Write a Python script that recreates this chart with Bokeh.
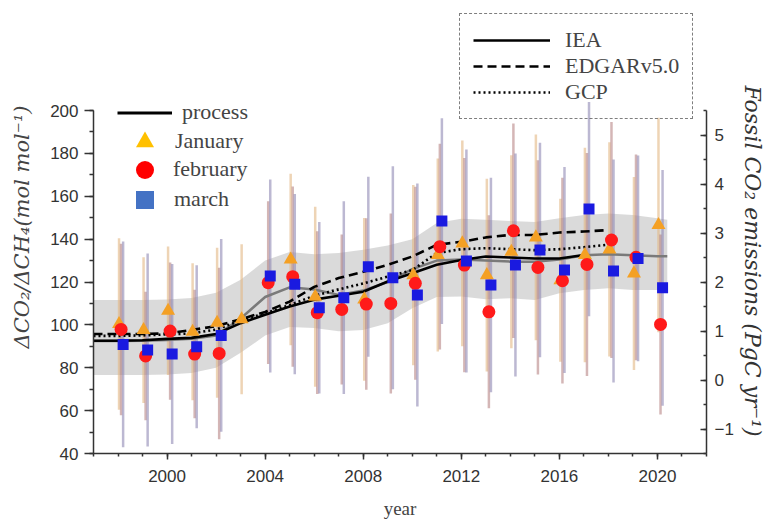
import numpy as np
from bokeh.plotting import figure
from bokeh.models import (Range1d, LinearAxis, Legend, LegendItem, Title,
                          SingleIntervalTicker, ColumnDataSource)
from bokeh.embed import file_html
from bokeh.resources import INLINE

nan = float("nan")

# ---- monthly ratio observations (left axis) ----
years = list(range(1998, 2021))
jan = [100.4, 97.6, 106.6, 96.8, 101.0, 102.6, nan, 130.5, 113.1, nan, 111.9, nan,
       123.2, 132.6, 138.0, 123.2, 134.1, 140.8, 120.8, 132.6, 135.2, 124.0, 146.6]
feb = [97.9, 85.5, 97.1, 86.4, 86.7, nan, 119.7, 122.5, 105.7, 107.2, 109.7, 110.0,
       119.4, 136.5, 127.9, 106.1, 143.9, 126.8, 120.6, 128.2, 139.6, 131.5, 100.2]
mar = [90.9, 88.3, 86.4, 89.8, 95.1, nan, 122.8, 119.0, 108.0, 112.7, 127.1, 122.0,
       113.9, 148.4, 129.8, 118.6, 127.9, 134.9, 125.6, 154.0, 125.1, 131.0, 117.3]
jan_err = [40, 34, 30, 32, 35, 35, nan, 40, 42, nan, 38, nan,
           42, 45, 48, 45, 45, 48, 38, 50, 50, 45, 50]
feb_err = [40, 30, 32, 30, 40, nan, 38, 42, 38, 35, 40, 42,
           45, 48, 50, 45, 50, 50, 48, 52, 55, 48, 42]
mar_err = [48, 45, 42, 38, 45, nan, 45, 42, 40, 45, 42, 52,
           52, 48, 52, 50, 52, 50, 48, 50, 52, 48, 55]

# ---- Gaussian-process fit and its band (left axis) ----
proc_years = [1997, 1998, 1999, 2000, 2001, 2002, 2003, 2004, 2005, 2006, 2007, 2008,
              2009, 2010, 2011, 2012, 2013, 2014, 2015, 2016, 2017, 2018, 2019, 2020, 2020.4]
proc = [92.5, 92.5, 92.6, 93.0, 93.5, 95.0, 103.0, 113.0, 117.5, 116.5, 114.0, 116.0,
        120.0, 126.0, 130.0, 130.5, 130.0, 129.5, 129.5, 130.5, 132.5, 133.0, 132.5, 132.0, 132.0]
band_lo = [76.6, 76.6, 76.6, 76.8, 77.5, 80.0, 87.0, 95.0, 99.0, 98.5, 97.0, 97.6,
           100.7, 107.7, 113.0, 113.2, 112.0, 112.4, 111.6, 114.7, 116.3, 117.1, 116.3, 116.3, 116.3]
band_hi = [111.6, 111.6, 111.6, 111.8, 112.5, 115.0, 121.0, 130.0, 134.0, 133.0, 133.5, 135.0,
           137.0, 140.0, 147.5, 149.5, 149.0, 148.5, 148.0, 149.7, 151.3, 152.0, 151.3, 149.7, 149.0]

# ---- fossil CO2 emissions (right axis, PgC/yr) ----
iea_years = list(range(1997, 2018))
iea = [0.80, 0.80, 0.81, 0.84, 0.86, 0.94, 1.16, 1.33, 1.50, 1.64, 1.72, 1.80,
       2.01, 2.18, 2.35, 2.45, 2.52, 2.50, 2.48, 2.48, 2.55]
edgar_years = list(range(1997, 2019))
edgar = [0.94, 0.94, 0.94, 0.95, 1.02, 1.10, 1.24, 1.39, 1.60, 1.90, 2.08, 2.21,
         2.35, 2.52, 2.76, 2.82, 2.91, 2.96, 2.96, 3.01, 3.03, 3.06]
gcp_years = list(range(1997, 2019))
gcp = [0.90, 0.90, 0.91, 0.93, 0.95, 1.03, 1.21, 1.36, 1.53, 1.72, 1.85, 1.97,
       2.11, 2.24, 2.59, 2.67, 2.69, 2.67, 2.65, 2.67, 2.71, 2.76]

# ---- layout constants (the page puts the canvas at the window's top-left) ----
W, H = 769, 522
B_LEFT, B_RIGHT, B_BOTTOM = 93, 61, 69
FRAME_H = H - B_BOTTOM
PX_PER_LEFT = 343.0 / 160.0      # 40..200 spans 343 px
PX_PER_RIGHT = 343.0 / 7.0       # -1.5..5.5 spans 343 px
left_top = 40 + FRAME_H / PX_PER_LEFT
right_top = -1.5 + FRAME_H / PX_PER_RIGHT

p = figure(width=W, height=H, x_range=Range1d(1997, 2022), y_range=Range1d(40, left_top),
           output_backend="svg", toolbar_location=None,
           min_border_left=B_LEFT, min_border_right=B_RIGHT, min_border_top=0,
           min_border_bottom=B_BOTTOM,
           x_axis_label="year", y_axis_label="ΔCO₂/ΔCH₄(mol mol⁻¹)")
p.extra_y_ranges = {"em": Range1d(-1.5, right_top)}
p.outline_line_color = None
p.xgrid.visible = False
p.ygrid.visible = False

yrs = np.array(years, dtype=float)
def dec(month):
    return yrs + (month - 0.5) / 12.0

ja, fe, ma = np.array(jan), np.array(feb), np.array(mar)
je, fe_e, me = np.array(jan_err), np.array(feb_err), np.array(mar_err)

# band
p.varea(x=proc_years, y1=band_lo, y2=band_hi, fill_color="#d3d3d3", fill_alpha=0.85)

# error bars
p.segment(x0=dec(1), y0=ja - je, x1=dec(1), y1=ja + je, line_color="#e3b784", line_alpha=0.6, line_width=2.5)
p.segment(x0=dec(2), y0=fe - fe_e, x1=dec(2), y1=fe + fe_e, line_color="#b07a7a", line_alpha=0.55, line_width=2.5)
p.segment(x0=dec(3), y0=ma - me, x1=dec(3), y1=ma + me, line_color="#8f88b4", line_alpha=0.6, line_width=2.5)

# process fit
p.line(proc_years, proc, line_color="#7a7a7a", line_width=2.5)

# emission lines
r_iea = p.line(iea_years, iea, y_range_name="em", line_color="black", line_width=2.6)
r_edgar = p.line(edgar_years, edgar, y_range_name="em", line_color="black", line_width=2.6, line_dash="9 5")
r_gcp = p.line(gcp_years, gcp, y_range_name="em", line_color="black", line_width=2.6, line_dash="2 3")

# markers
p.scatter(dec(1), ja, marker="triangle", size=14, fill_color="#f4a024", line_color=None)
p.scatter(dec(2), fe, marker="circle", size=13, fill_color="#ff1a1a", line_color=None)
p.scatter(dec(3), ma, marker="square", size=11, fill_color="#1a1ae0", line_color=None)

# legend-only renderers (a single NaN point, so nothing shows in the plot)
def blank():
    return ColumnDataSource(data=dict(x=[nan], y=[nan]))
l_proc = p.line("x", "y", source=blank(), line_color="black", line_width=3)
l_jan = p.scatter("x", "y", source=blank(), marker="triangle", fill_color="#ffc000", line_color=None)
l_feb = p.scatter("x", "y", source=blank(), marker="circle", fill_color="#ff0000", line_color=None)
l_mar = p.scatter("x", "y", source=blank(), marker="square", fill_color="#4472c4", line_color=None)

# axes
axis_col = "#333333"
for ax in (p.xaxis[0], p.yaxis[0]):
    ax.axis_line_color = axis_col
    ax.axis_line_width = 1.5
    ax.major_tick_line_color = axis_col
    ax.minor_tick_line_color = axis_col
    ax.major_tick_line_width = 1.5
    ax.minor_tick_line_width = 1.5
    ax.major_label_text_font = "Liberation Sans"
    ax.major_label_text_font_size = "17px"
    ax.major_label_text_color = "#333333"

p.xaxis.ticker = SingleIntervalTicker(interval=4, num_minor_ticks=4)
p.xaxis.major_tick_in = 0
p.xaxis.major_tick_out = 6
p.xaxis.minor_tick_in = 0
p.xaxis.minor_tick_out = 3
p.xaxis.major_label_standoff = 10
p.xaxis.axis_label_text_font = "Liberation Serif"
p.xaxis.axis_label_text_font_style = "normal"
p.xaxis.axis_label_text_font_size = "19px"
p.xaxis.axis_label_standoff = 13

p.yaxis.bounds = (40, 200)
p.yaxis.ticker = SingleIntervalTicker(interval=20, num_minor_ticks=2)
p.yaxis.major_tick_in = 0
p.yaxis.major_tick_out = 9
p.yaxis.minor_tick_in = 0
p.yaxis.minor_tick_out = 4
p.yaxis.major_label_standoff = 6
p.yaxis.axis_label_text_font = "DejaVu Serif"
p.yaxis.axis_label_text_font_style = "italic"
p.yaxis.axis_label_text_font_size = "21px"
p.yaxis.axis_label_standoff = 13

rax = LinearAxis(y_range_name="em",
                 ticker=SingleIntervalTicker(interval=1, num_minor_ticks=2), bounds=(-1.5, 5.5))
rax.axis_line_color = axis_col
rax.axis_line_width = 1.5
rax.major_tick_line_color = axis_col
rax.minor_tick_line_color = axis_col
rax.major_tick_line_width = 1.5
rax.minor_tick_line_width = 1.5
rax.major_tick_in = 6
rax.major_tick_out = 0
rax.minor_tick_in = 3
rax.minor_tick_out = 0
rax.major_label_standoff = 8
rax.major_label_text_font = "Liberation Sans"
rax.major_label_text_font_size = "17px"
rax.major_label_text_color = "#333333"
p.add_layout(rax, "right")

# right-hand axis title, placed as a side title so it can sit where the reference has it
rtitle = Title(text="Fossil CO₂ emissions (PgC yr⁻¹)", align="left", offset=85,
               text_font="DejaVu Serif", text_font_style="italic", text_font_size="22px",
               text_color="#333333", standoff=6)
p.add_layout(rtitle, "right")

# legend 1 (process / months): one single-item legend per row so the
# markers can be drawn large while the rows stay close together
FRAME_BOTTOM = FRAME_H  # canvas y of frame bottom
leg1_rows = [("process", l_proc, 112, 10),
             ("January", l_jan, 141, 3),
             ("february", l_feb, 169, 1),
             ("march", l_mar, 199, 2)]
for label, rend, cy, standoff in leg1_rows:
    lg = Legend(items=[LegendItem(label=label, renderers=[rend])],
                location=(24, FRAME_BOTTOM - cy - 22.5), glyph_width=55, glyph_height=45,
                label_height=45, label_standoff=standoff, padding=0, margin=0,
                label_text_font="Liberation Serif", label_text_font_size="22px",
                border_line_color=None, background_fill_alpha=0)
    p.add_layout(lg, "center")

# legend 2 (emission inventories)
leg2 = Legend(items=[LegendItem(label="IEA", renderers=[r_iea]),
                     LegendItem(label="EDGARv5.0", renderers=[r_edgar]),
                     LegendItem(label="GCP", renderers=[r_gcp])],
              location=(366, FRAME_BOTTOM - 119), glyph_width=77, glyph_height=26, label_height=26,
              spacing=0, label_standoff=15, padding=13, margin=0,
              label_text_font="Liberation Serif", label_text_font_size="22px",
              border_line_color="black", border_line_width=1.5, border_line_dash="7 4 2 4",
              background_fill_alpha=0)
p.add_layout(leg2, "center")

open("out.html", "w").write(file_html(p, INLINE))
